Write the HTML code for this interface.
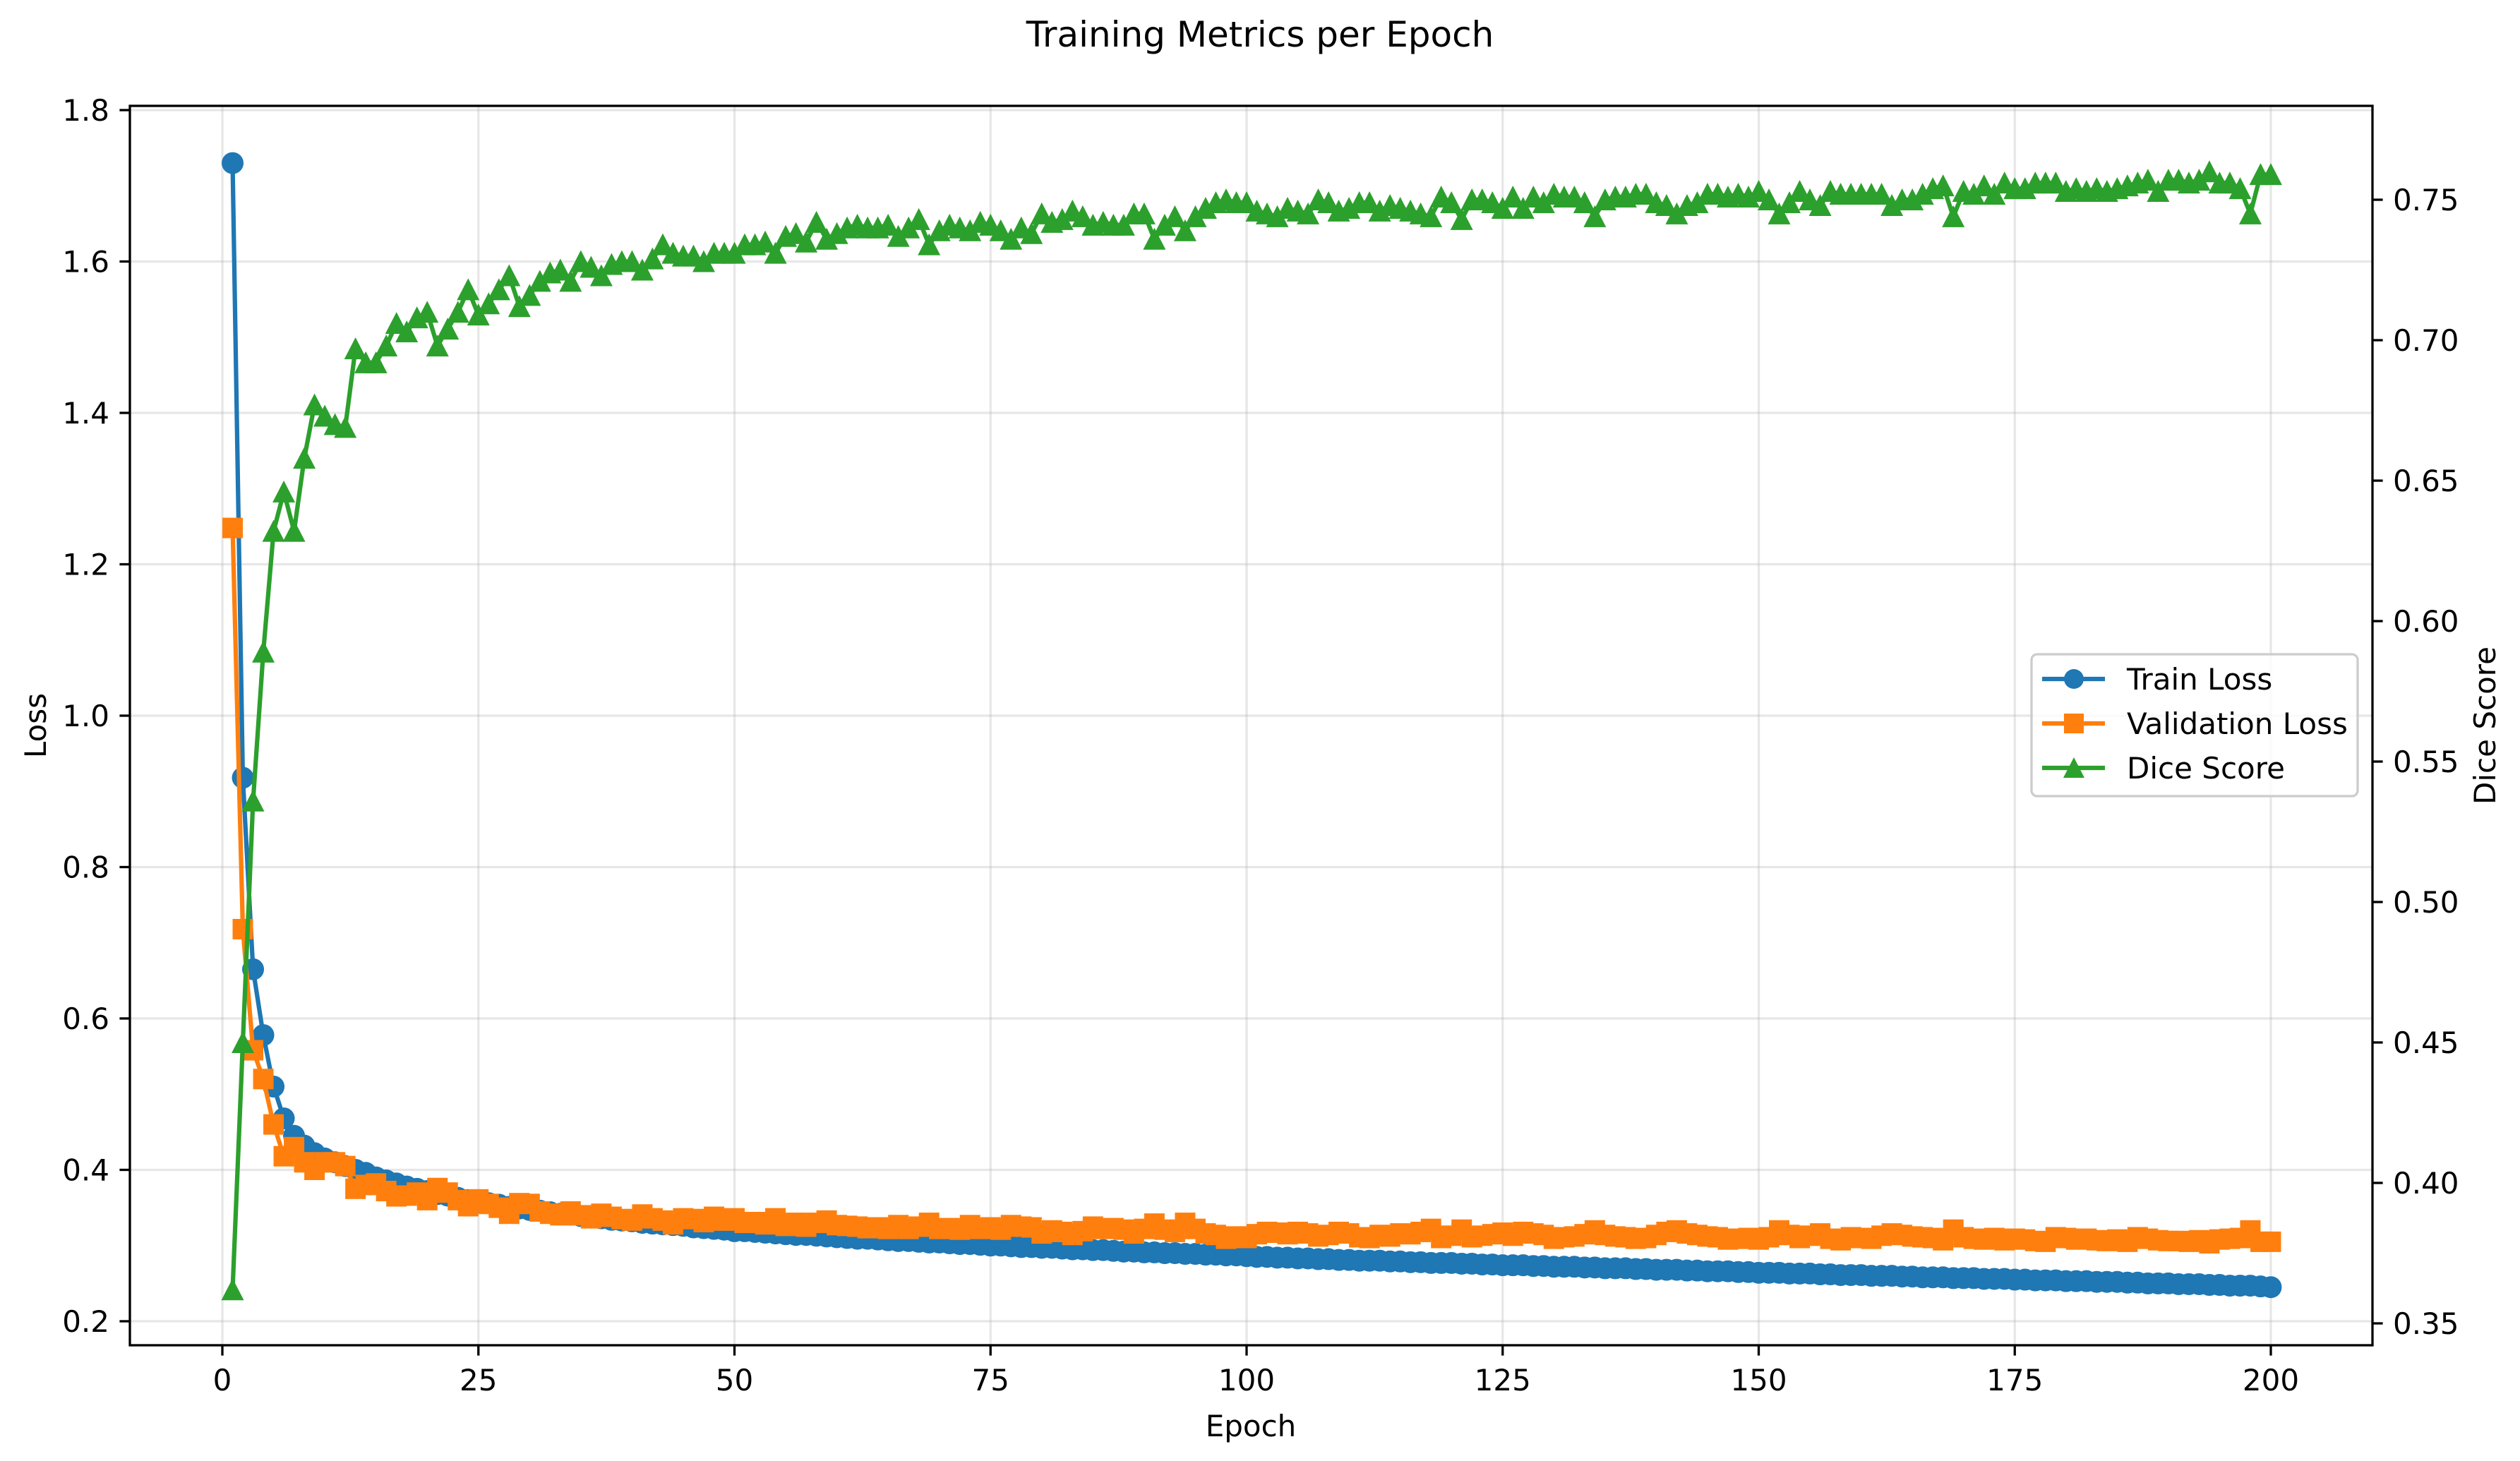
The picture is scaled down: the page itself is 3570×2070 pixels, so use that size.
<!DOCTYPE html>
<html><head><meta charset="utf-8"><style>
html,body{margin:0;padding:0;background:#fff;}
svg text{font-family:"DejaVu Sans","Liberation Sans",sans-serif;fill:#000;}
</style></head><body>
<svg id="chart" xmlns="http://www.w3.org/2000/svg" width="3570" height="2065" viewBox="0 0 3570 2065">
<rect width="3570" height="2065" fill="#fff"/>
<g id="grid"></g>
<g id="xticks"></g>
<g id="lticks"></g>
<g id="rticks"></g>
<g id="series"></g>
<rect x="184" y="150" width="3177" height="1756" fill="none" stroke="#000" stroke-width="3.3"/>
<text x="1785" y="66" font-size="50" text-anchor="middle">Training Metrics per Epoch</text>
<text x="1772" y="2035" font-size="42" text-anchor="middle">Epoch</text>
<text transform="translate(65,1028) rotate(-90)" font-size="42" text-anchor="middle">Loss</text>
<text transform="translate(3535,1028) rotate(-90)" font-size="42" text-anchor="middle">Dice Score</text>
<g>
<rect x="2878" y="927" width="462" height="201" rx="8" fill="#fff" fill-opacity="0.8" stroke="#ccc" stroke-width="3.3"/>
<g>
<line x1="2893" y1="962" x2="2982" y2="962" stroke="#1f77b4" stroke-width="6.25"/>
<circle cx="2938" cy="962" r="14" fill="#1f77b4"/>
<text x="3013" y="977" font-size="42">Train Loss</text></g>
<g>
<line x1="2893" y1="1025" x2="2982" y2="1025" stroke="#ff7f0e" stroke-width="6.25"/>
<rect x="2924" y="1011" width="28" height="28" fill="#ff7f0e"/>
<text x="3013" y="1040" font-size="42">Validation Loss</text></g>
<g>
<line x1="2893" y1="1088" x2="2982" y2="1088" stroke="#2ca02c" stroke-width="6.25"/>
<polygon points="2938,1073 2953,1102 2923,1102" fill="#2ca02c"/>
<text x="3013" y="1103" font-size="42">Dice Score</text></g>
</g>
</svg>
<script>
const trainLoss=[1.730,0.918,0.665,0.578,0.510,0.468,0.445,0.432,0.422,0.415,
0.410,0.405,0.400,0.396,0.390,0.386,0.382,0.378,0.375,0.372,
0.368,0.366,0.363,0.360,0.358,0.356,0.354,0.351,0.349,0.347,
0.346,0.344,0.342,0.341,0.339,0.337,0.336,0.334,0.333,0.332,
0.330,0.329,0.328,0.327,0.326,0.324,0.323,0.322,0.321,0.319,
0.319,0.318,0.317,0.316,0.315,0.314,0.314,0.313,0.312,0.311,
0.310,0.309,0.309,0.308,0.307,0.306,0.306,0.305,0.304,0.304,
0.303,0.302,0.302,0.301,0.300,0.300,0.299,0.298,0.298,0.297,
0.297,0.296,0.295,0.295,0.294,0.294,0.293,0.292,0.292,0.291,
0.291,0.290,0.290,0.289,0.289,0.288,0.288,0.287,0.287,0.286,
0.285,0.285,0.284,0.284,0.283,0.283,0.282,0.282,0.281,0.281,
0.280,0.280,0.280,0.279,0.279,0.278,0.278,0.277,0.277,0.277,
0.276,0.276,0.275,0.275,0.274,0.274,0.274,0.273,0.273,0.272,
0.272,0.272,0.271,0.271,0.270,0.270,0.270,0.269,0.269,0.268,
0.268,0.268,0.267,0.267,0.266,0.266,0.266,0.265,0.265,0.264,
0.264,0.264,0.263,0.263,0.263,0.262,0.262,0.261,0.261,0.261,
0.260,0.260,0.260,0.259,0.259,0.258,0.258,0.258,0.257,0.257,
0.257,0.256,0.256,0.256,0.255,0.255,0.254,0.254,0.254,0.253,
0.253,0.253,0.252,0.252,0.252,0.251,0.251,0.250,0.250,0.250,
0.249,0.249,0.249,0.248,0.248,0.247,0.247,0.247,0.246,0.245];
const valLoss=[1.248,0.718,0.558,0.520,0.460,0.418,0.430,0.410,0.400,0.410,
0.410,0.405,0.375,0.380,0.382,0.372,0.365,0.366,0.370,0.360,
0.376,0.370,0.360,0.352,0.361,0.355,0.350,0.342,0.356,0.355,
0.345,0.342,0.340,0.345,0.340,0.336,0.342,0.338,0.335,0.333,
0.341,0.336,0.333,0.328,0.336,0.335,0.331,0.338,0.333,0.336,
0.330,0.331,0.328,0.336,0.326,0.330,0.325,0.330,0.333,0.327,
0.326,0.325,0.323,0.324,0.322,0.327,0.322,0.325,0.330,0.322,
0.323,0.321,0.327,0.322,0.324,0.321,0.327,0.325,0.324,0.316,
0.320,0.318,0.314,0.319,0.325,0.322,0.323,0.321,0.316,0.322,
0.329,0.321,0.318,0.330,0.322,0.316,0.314,0.309,0.312,0.310,
0.315,0.318,0.317,0.315,0.318,0.316,0.312,0.314,0.318,0.316,
0.311,0.310,0.314,0.312,0.316,0.315,0.318,0.322,0.310,0.313,
0.321,0.311,0.313,0.315,0.317,0.313,0.318,0.316,0.314,0.309,
0.311,0.312,0.315,0.320,0.314,0.312,0.311,0.309,0.310,0.314,
0.318,0.320,0.316,0.314,0.312,0.311,0.308,0.309,0.310,0.308,
0.311,0.320,0.314,0.310,0.313,0.316,0.309,0.307,0.311,0.310,
0.309,0.313,0.316,0.314,0.312,0.311,0.310,0.307,0.321,0.311,
0.309,0.308,0.310,0.307,0.309,0.308,0.306,0.305,0.311,0.310,
0.308,0.309,0.307,0.306,0.308,0.305,0.311,0.309,0.307,0.306,
0.306,0.305,0.307,0.303,0.308,0.309,0.310,0.320,0.305,0.305];
const diceScore=[.362,.450,.536,.589,.632,.646,.632,.658,.677,.673,
.670,.669,.697,.692,.692,.698,.706,.703,.708,.710,
.698,.704,.710,.718,.709,.713,.718,.723,.712,.716,
.721,.724,.725,.721,.728,.726,.723,.727,.728,.728,
.725,.729,.734,.731,.730,.730,.728,.731,.731,.731,
.734,.734,.735,.731,.737,.738,.735,.742,.736,.738,
.740,.741,.740,.740,.741,.737,.740,.743,.734,.739,
.741,.740,.739,.742,.741,.739,.736,.740,.738,.745,
.742,.743,.746,.744,.741,.742,.741,.741,.745,.745,
.736,.741,.744,.739,.744,.747,.749,.750,.749,.749,
.746,.745,.744,.747,.746,.745,.750,.749,.746,.747,
.749,.749,.746,.748,.747,.746,.745,.744,.751,.749,
.743,.750,.750,.749,.747,.751,.747,.751,.749,.752,
.751,.751,.749,.744,.750,.751,.751,.752,.752,.749,
.748,.745,.748,.749,.752,.752,.751,.752,.751,.753,
.750,.745,.749,.753,.750,.748,.753,.752,.752,.752,
.752,.752,.748,.750,.750,.752,.754,.755,.744,.753,
.752,.755,.752,.756,.754,.754,.756,.756,.756,.753,
.754,.753,.754,.753,.754,.755,.756,.757,.753,.757,
.757,.756,.757,.760,.756,.756,.754,.745,.759,.759];
const xTicks=[0,25,50,75,100,125,150,175,200];
const lossTicks=[0.2,0.4,0.6,0.8,1.0,1.2,1.4,1.6,1.8];
const lossTickLabels=["0.2","0.4","0.6","0.8","1.0","1.2","1.4","1.6","1.8"];
const diceTicks=[0.35,0.40,0.45,0.50,0.55,0.60,0.65,0.70,0.75];
const diceTickLabels=["0.35","0.40","0.45","0.50","0.55","0.60","0.65","0.70","0.75"];

const NS="http://www.w3.org/2000/svg";
const L=184,R=3361,T=150,B=1906;
const xs=e=>315+e*14.51;
const yl=v=>156+(1.8-v)*1072.5;
const yr=v=>283+(0.75-v)*3980;
function mk(tag,attrs,parent){const el=document.createElementNS(NS,tag);for(const k in attrs)el.setAttribute(k,attrs[k]);parent.appendChild(el);return el;}
const grid=document.getElementById('grid'),xt=document.getElementById('xticks'),lt=document.getElementById('lticks'),rt=document.getElementById('rticks'),ser=document.getElementById('series');
xTicks.forEach(t=>{const x=xs(t);
 const g=mk('line',{x1:x,x2:x,y1:T,y2:B,stroke:'#b0b0b0','stroke-opacity':0.3,'stroke-width':3.3},grid);
 
 
 const tk=mk('line',{x1:x,x2:x,y1:B,y2:B+14.6,stroke:'#000','stroke-width':3.3},xt);
 
 
 const tx=mk('text',{x:x,y:B+64,'font-size':42,'text-anchor':'middle'},xt);tx.textContent=String(t);
 
 
});
lossTicks.forEach((t,i)=>{const y=yl(t);
 const g=mk('line',{x1:L,x2:R,y1:y,y2:y,stroke:'#b0b0b0','stroke-opacity':0.3,'stroke-width':3.3},grid);
 
 
 const tk=mk('line',{x1:L-14.6,x2:L,y1:y,y2:y,stroke:'#000','stroke-width':3.3},lt);
 
 
 const tx=mk('text',{x:L-29,y:y+15,'font-size':42,'text-anchor':'end'},lt);tx.textContent=lossTickLabels[i];
 
 
});
diceTicks.forEach((t,i)=>{const y=yr(t);
 const tk=mk('line',{x1:R,x2:R+14.6,y1:y,y2:y,stroke:'#000','stroke-width':3.3},rt);
 
 
 const tx=mk('text',{x:R+29,y:y+15,'font-size':42,'text-anchor':'start'},rt);tx.textContent=diceTickLabels[i];
 
 
});
function drawSeries(vals,yf,color,shape,name){
 const g=mk('g',{},ser);
 
 
 const pts=vals.map((v,i)=>xs(i+1).toFixed(1)+','+yf(v).toFixed(1)).join(' ');
 const pl=mk('polyline',{points:pts,fill:'none',stroke:color,'stroke-width':6.25,'stroke-linejoin':'round'},g);
 
 
 vals.forEach((v,i)=>{const x=xs(i+1),y=yf(v);let m;
  if(shape==='o')m=mk('circle',{cx:x,cy:y,r:15.5,fill:color},g);
  else if(shape==='s')m=mk('rect',{x:x-14.5,y:y-14.5,width:29,height:29,fill:color},g);
  else m=mk('polygon',{points:`${x},${y-16} ${x+16},${y+15} ${x-16},${y+15}`,fill:color},g);
  
  
 });
}
drawSeries(trainLoss,yl,'#1f77b4','o','train-loss');
drawSeries(valLoss,yl,'#ff7f0e','s','validation-loss');
drawSeries(diceScore,yr,'#2ca02c','^','dice-score');
</script>
</body></html>
